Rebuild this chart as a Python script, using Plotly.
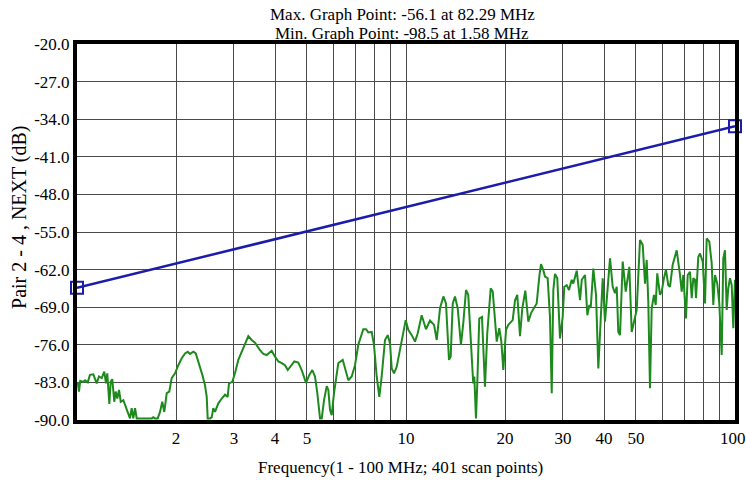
import plotly.graph_objects as go

# Limit line (blue)
limit_freq = [1, 100]
limit_db = [-65.4, -35.3]

freq = [1.005, 1.014, 1.023, 1.045, 1.058, 1.078, 1.095, 1.121, 1.148, 1.166,
        1.189, 1.210, 1.225, 1.236, 1.254, 1.266, 1.280, 1.298, 1.311, 1.326,
        1.342, 1.358, 1.383, 1.406, 1.432, 1.449, 1.466, 1.483, 1.501, 1.519,
        1.58, 1.609, 1.687, 1.706, 1.726, 1.759, 1.788, 1.816, 1.842, 1.874,
        1.908, 1.940, 1.986, 2.032, 2.081, 2.130, 2.171, 2.206, 2.258, 2.296,
        2.349, 2.404, 2.449, 2.479, 2.496, 2.537, 2.567, 2.596, 2.627, 2.689,
        2.754, 2.817, 2.871, 2.897, 2.965, 3.021, 3.093, 3.168, 3.241, 3.317,
        3.396, 3.475, 3.599, 3.684, 3.772, 3.906, 3.999, 4.092, 4.193, 4.287,
        4.370, 4.441, 4.576, 4.706, 4.819, 4.967, 5.083, 5.191, 5.290, 5.376,
        5.479, 5.545, 5.635, 5.742, 5.807, 5.875, 5.945, 6.042, 6.227, 6.422,
        6.526, 6.679, 6.840, 6.997, 7.161, 7.282, 7.416, 7.558, 7.681, 7.866,
        7.993, 8.146, 8.296, 8.436, 8.633, 8.798, 8.941, 9.048, 9.195, 9.370,
        9.589, 9.772, 9.979, 10.16, 10.41, 10.65, 10.85, 11.16, 11.29, 11.50,
        11.83, 11.97, 12.17, 12.40, 12.69, 12.99, 13.23, 13.51, 13.67, 13.87,
        14.09, 14.36, 14.69, 14.93, 15.22, 15.46, 15.76, 16.01, 16.13, 16.32,
        16.47, 16.70, 17.02, 17.38, 17.66, 18.09, 18.35, 18.64, 18.87, 19.21,
        19.49, 19.76, 20.14, 20.46, 21.10, 21.45, 21.79, 22.21, 22.57, 23.05,
        23.54, 23.99, 24.50, 24.96, 25.42, 25.72, 26.14, 26.45, 26.95, 27.39,
        27.73, 28.04, 28.37, 28.83, 29.38, 29.94, 30.28, 30.79, 31.29, 31.89,
        32.25, 33.03, 33.81, 34.21, 35.01, 35.58, 36.08, 36.43, 37.10, 37.81,
        38.42, 39.07, 39.62, 40.26, 40.92, 41.70, 42.49, 43.18, 43.70, 44.19,
        44.72, 45.57, 46.54, 47.73, 48.53, 49.32, 50.26, 51.43, 52.42, 53.27,
        53.90, 54.51, 55.16, 55.82, 56.72, 57.40, 58.04, 59.15, 59.86, 60.83,
        61.69, 62.69, 63.44, 64.65, 66.49, 68.05, 68.86, 69.64, 70.97, 71.82,
        72.98, 73.86, 74.69, 75.58, 76.11, 77.35, 78.27, 79.77, 81.06, 82.03,
        83.53, 84.95, 85.91, 86.93, 88.34, 89.59, 91.11, 92.13, 93.24, 94.35,
        95.40, 96.56, 97.72, 98.82, 100.0]
next_db = [-82.9, -84.7, -82.7, -82.9, -82.6, -83.0, -81.6, -81.5, -83.2, -81.9,
           -82.2, -81.0, -83.2, -81.3, -87.0, -82.9, -82.4, -86.6, -84.7, -86.0,
           -84.4, -86.6, -86.3, -87.5, -88.8, -89.7, -87.8, -89.7, -87.8, -89.7,
           -89.7, -89.7, -89.7, -89.5, -89.7, -89.7, -88.5, -86.6, -88.5, -85.0,
           -84.7, -82.2, -81.3, -79.8, -78.5, -77.6, -77.3, -77.7, -77.3, -77.6,
           -79.4, -81.6, -83.5, -85.7, -89.7, -89.7, -89.5, -87.8, -88.5, -86.9,
           -86.0, -85.3, -85.7, -83.2, -82.9, -81.3, -78.8, -77.3, -75.7, -74.4,
           -75.1, -75.6, -77.0, -77.7, -77.9, -77.1, -78.2, -79.1, -79.4, -79.8,
           -80.7, -80.2, -79.1, -79.3, -80.7, -83.1, -81.6, -80.7, -81.9, -85.0,
           -89.7, -89.7, -86.3, -83.7, -84.4, -88.1, -89.1, -85.0, -79.4, -78.8,
           -80.4, -82.6, -81.9, -79.8, -76.0, -74.5, -73.1, -73.1, -73.7, -73.6,
           -76.0, -81.9, -85.7, -81.9, -75.1, -74.2, -75.7, -80.4, -81.3, -80.1,
           -77.0, -73.9, -71.4, -73.2, -74.2, -75.4, -73.9, -70.5, -71.4, -73.1,
           -71.5, -71.9, -72.3, -75.1, -69.2, -67.0, -68.3, -78.8, -78.2, -68.3,
           -67.0, -69.2, -76.0, -72.0, -65.8, -66.7, -76.4, -83.2, -81.9, -89.7,
           -83.2, -71.1, -70.8, -83.8, -73.9, -65.5, -66.1, -71.4, -75.4, -72.9,
           -75.4, -80.7, -73.2, -72.3, -71.4, -67.7, -66.7, -74.4, -69.2, -65.9,
           -71.7, -70.1, -69.2, -68.3, -63.3, -61.0, -62.1, -63.3, -63.6, -70.8,
           -85.0, -65.8, -62.8, -63.6, -74.8, -70.8, -65.2, -64.9, -65.8, -63.9,
           -64.6, -62.2, -67.7, -63.9, -63.0, -70.5, -68.6, -69.1, -61.8, -66.7,
           -80.4, -69.8, -63.6, -71.7, -66.1, -59.9, -65.2, -66.4, -65.2, -73.6,
           -74.2, -60.5, -66.1, -61.5, -73.6, -71.7, -69.5, -56.5, -57.4, -64.6,
           -60.2, -68.0, -84.1, -69.2, -66.7, -68.6, -62.7, -66.7, -66.1, -63.6,
           -62.0, -64.9, -65.2, -61.1, -58.4, -63.0, -66.1, -63.0, -71.1, -63.0,
           -62.4, -67.3, -63.6, -63.9, -67.3, -59.6, -59.0, -60.5, -68.3, -56.2,
           -56.8, -60.8, -68.6, -63.0, -64.6, -68.3, -77.9, -59.9, -58.4, -69.5,
           -65.5, -63.6, -64.9, -72.9, -63.9]

y_ticks = [-90, -83, -76, -69, -62, -55, -48, -41, -34, -27, -20]
y_labels = ["-90.0", "-83.0", "-76.0", "-69.0", "-62.0", "-55.0", "-48.0",
            "-41.0", "-34.0", "-27.0", "-20.0"]
x_grid = [2, 3, 4, 5, 6, 7, 8, 9, 10, 20, 30, 40, 50, 60, 70, 80, 90, 100]
x_labels = ["2", "3", "4", "5", "", "", "", "", "10", "20", "30", "40", "50",
            "", "", "", "", ""]
x_last_label = "100"

title_lines = ["Max. Graph Point: -56.1 at 82.29 MHz",
               "Min. Graph Point: -98.5 at 1.58 MHz"]
x_title = "Frequency(1 - 100 MHz; 401 scan points)"
y_title = "Pair 2 - 4 , NEXT (dB)"

font_family = "Liberation Serif, Times New Roman, serif"

fig = go.Figure()
fig.add_trace(go.Scatter(x=freq, y=next_db, mode="lines",
                         line=dict(color="#1e8a1e", width=2), showlegend=False))
fig.add_trace(go.Scatter(x=limit_freq, y=limit_db, mode="lines+markers",
                         line=dict(color="#1c1caa", width=2.5),
                         marker=dict(symbol="square-open", size=12,
                                     color="#1c1caa", line=dict(width=2)),
                         cliponaxis=False, showlegend=False))

for line_text, shift in zip(title_lines, [30, 11]):
    fig.add_annotation(text=line_text, xref="paper", yref="paper",
                       x=0.494, y=1.0, xanchor="center", yanchor="middle",
                       showarrow=False, font=dict(size=17, family=font_family),
                       yshift=shift)

# last x tick label, kept inside the page edge as in the reference
fig.add_annotation(text=x_last_label, xref="paper", yref="paper",
                   x=1.0, y=0.0, xanchor="right", yanchor="middle",
                   showarrow=False, font=dict(size=17, family=font_family),
                   xshift=13, yshift=-18)

fig.add_annotation(text=x_title, xref="paper", yref="paper",
                   x=0.4924, y=0.0, xanchor="center", yanchor="middle",
                   showarrow=False, font=dict(size=17, family=font_family),
                   yshift=-47)

fig.add_annotation(text=y_title, xref="paper", yref="paper",
                   x=-0.0866, y=0.54, xanchor="center", yanchor="middle",
                   textangle=-90, showarrow=False,
                   font=dict(size=20, family=font_family))

fig.update_layout(
    width=746, height=482,
    margin=dict(l=77, r=11, t=44, b=62, autoexpand=False),
    paper_bgcolor="white", plot_bgcolor="white",
    font=dict(family=font_family, size=17, color="black"),
    xaxis=dict(type="log", range=[0, 2], tickvals=x_grid, ticktext=x_labels,
               automargin=False,
               showgrid=True, gridcolor="#4a4a4a", gridwidth=1,
               showline=True, linecolor="black", linewidth=4, mirror=True,
               ticks="", zeroline=False),
    yaxis=dict(range=[-90, -20], tickvals=y_ticks, ticktext=y_labels,
               automargin=False, ticklabeloverflow="allow",
               showgrid=True, gridcolor="#4a4a4a", gridwidth=1,
               showline=True, linecolor="black", linewidth=4, mirror=True,
               ticks="", zeroline=False),
)

fig.write_html("out.html", config={"displayModeBar": False},
               post_script="document.body.style.margin='0';")
